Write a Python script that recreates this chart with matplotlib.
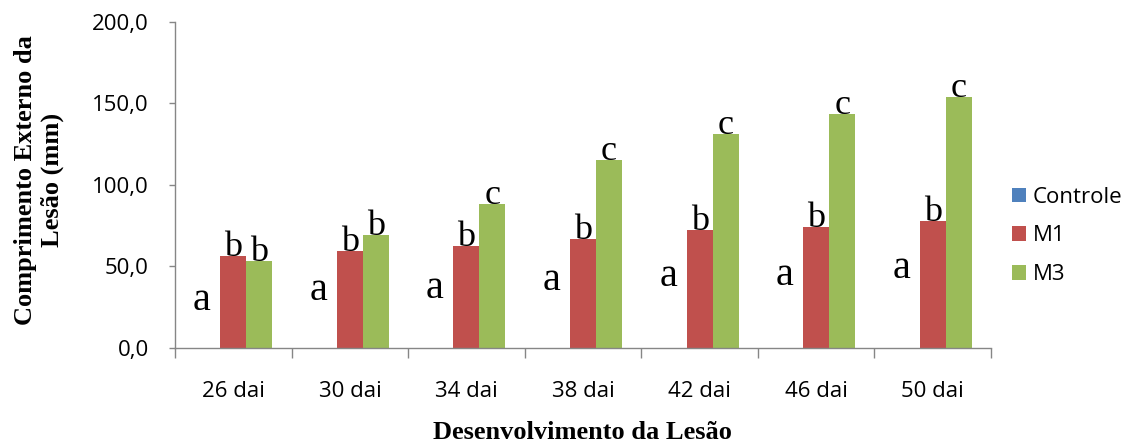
import numpy as np
import matplotlib.pyplot as plt
from matplotlib.patches import Patch

days = ['26 dai', '30 dai', '34 dai', '38 dai', '42 dai', '46 dai', '50 dai']
controle = [0, 0, 0, 0, 0, 0, 0]
m1 = [56.3, 59.4, 62.6, 66.9, 72.5, 74.1, 77.8]
m3 = [53.2, 69.0, 88.4, 115.3, 131.0, 143.5, 153.9]

# letras do teste de medias
let_controle = ['a', 'a', 'a', 'a', 'a', 'a', 'a']
let_m1 = ['b', 'b', 'b', 'b', 'b', 'b', 'b']
let_m3 = ['b', 'b', 'c', 'c', 'c', 'c', 'c']
# altura (mm) onde ficam as letras do controle
y_let_controle = [23.2, 29.3, 30.3, 35.4, 37.8, 38.5, 42.6]

cores = {'Controle': '#4F81BD', 'M1': '#C0504D', 'M3': '#9BBB59'}
cinza = '#868686'

fig = plt.figure(figsize=(11.33, 4.46), dpi=100)
ax = fig.add_axes([0.1545, 0.2204, 0.7202, 0.7303])

x = np.arange(len(days))
w = 0.223
ax.bar(x - w, controle, w, color=cores['Controle'], linewidth=0)
ax.bar(x, m1, w, color=cores['M1'], linewidth=0)
ax.bar(x + w, m3, w, color=cores['M3'], linewidth=0)

serif = 'Liberation Serif'
for i in range(len(days)):
    ax.text(x[i] - 0.27, y_let_controle[i], let_controle[i], ha='center', va='baseline',
            fontsize=29, family=serif)
    ax.text(x[i], m1[i], let_m1[i], ha='center', va='baseline', fontsize=26, family=serif)
    ax.text(x[i] + w, m3[i], let_m3[i], ha='center', va='baseline', fontsize=26, family=serif)

ax.set_xlim(-0.5, len(days) - 0.5)
ax.set_ylim(0, 200)

yt = np.arange(0, 201, 50)
ax.set_yticks(yt)
ax.set_yticklabels([f'{v:.1f}'.replace('.', ',') for v in yt], family='Open Sans', fontsize=16)
ax.tick_params(axis='y', direction='out', length=4, width=1, color=cinza, pad=15)

ax.set_xticks(x)
ax.set_xticklabels(days, family='Open Sans', fontsize=16)
ax.set_xticks(np.arange(-0.5, len(days), 1), minor=True)
ax.tick_params(axis='x', which='major', length=0, pad=24)
ax.tick_params(axis='x', which='minor', direction='out', length=7, width=1, color=cinza)

for s in ['top', 'right']:
    ax.spines[s].set_visible(False)
for s in ['left', 'bottom']:
    ax.spines[s].set_color(cinza)
    ax.spines[s].set_linewidth(1)

fig.text(0.0344, 0.596, 'Comprimento Externo da\nLesão (mm)', rotation=90, ha='center',
         va='center', multialignment='center', fontsize=19, fontweight='bold', family=serif)
fig.text(0.5145, 0.031, 'Desenvolvimento da Lesão', ha='center', va='center',
         fontsize=19, fontweight='bold', family=serif)

handles = [Patch(facecolor=c, linewidth=0) for c in cores.values()]
fig.legend(handles, list(cores.keys()), loc='center left', bbox_to_anchor=(0.893, 0.471),
           frameon=False, prop={'family': 'Open Sans', 'size': 16}, handlelength=0.64,
           handleheight=0.64, handletextpad=0.3, labelspacing=0.8, borderpad=0,
           borderaxespad=0)

fig.savefig('out.png', dpi=100)
